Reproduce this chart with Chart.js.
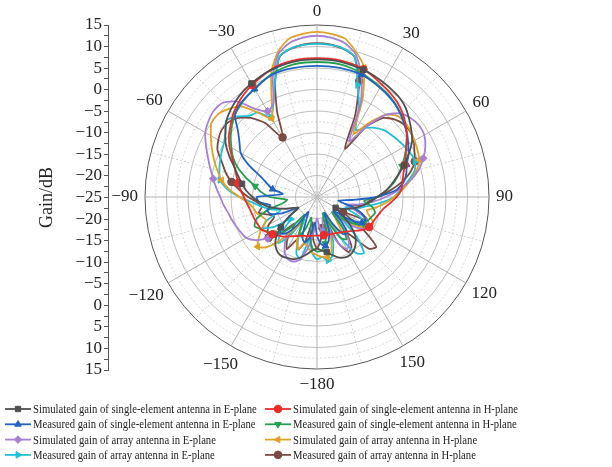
<!DOCTYPE html>
<html>
<head>
<meta charset="utf-8">
<script src="https://cdn.jsdelivr.net/npm/chart.js"></script>
<style>
  html, body { margin: 0; padding: 0; background: #fff; }
</style>
</head>
<body>
<canvas id="myChart" width="612" height="467"></canvas>
<script>
const FONT = '"Liberation Serif", "Times New Roman", serif';

// angle of each sample in degrees, clockwise from the top
const angles = [0,5,10,15,20,25,30,35,40,45,50,55,60,65,70,75,80,85,90,95,100,105,110,115,120,125,130,135,140,145,150,155,160,165,170,175,180,
  -175,-170,-165,-160,-155,-150,-145,-140,-135,-130,-125,-120,-115,-110,-105,-100,-95,-90,-85,-80,-75,-70,-65,-60,-55,-50,-45,-40,-35,-30,-25,-20,-15,-10,-5];

// angles where the curves carry a marker
const markerAngles = [-130, -80, -30, 20, 70, 120, 170];

// gain in dB, same order as angles
const simSingleE = [7.0,7.0,6.9,6.7,6.5,6.2,5.8,5.4,5.0,4.2,3.0,1.8,0.5,-1.5,-3.5,-5.5,-7.3,-9,-11,-12.5,-14,-15.5,-17,-18.5,-20,-18,-15,-12.5,-11,-10,-9.5,-9.5,-10,-11,-12,-12.5,-13,
  -12.5,-11.5,-10.5,-9.6,-9.3,-9,-9.2,-10,-11.5,-14,-17,-20,-19,-17,-15,-13,-11.5,-10,-8.5,-7.3,-6,-4.5,-2.5,-0.5,1.0,2.5,3.5,4.3,5.0,5.5,6.0,6.4,6.7,6.9,7.0];
const simSingleH = [7.3,7.3,7.2,7.0,6.6,5.9,5.2,4.6,3.9,3.0,1.8,0.5,-1.0,-2.2,-3.3,-4.2,-4.8,-5.3,-6.5,-8,-9.3,-10,-10.5,-10.8,-11,-11.8,-12.8,-13.8,-14.5,-15,-15.4,-15.6,-15.8,-15.9,-16,-16,-16,
  -16,-15.8,-15.6,-15.4,-15,-14.5,-13.8,-13,-12.3,-11.5,-10.8,-10,-9.8,-9.6,-9.4,-9.1,-8.6,-8,-7.2,-6.4,-5.6,-4.6,-3.2,-1.5,0,1.2,2.5,3.5,4.4,5.1,5.8,6.5,7.0,7.2,7.3];
const measSingleE = [5.5,5.5,5.5,5.4,5.3,4.8,4.3,3.8,3.2,2.4,1.5,0.6,-0.5,-1.5,-2.8,-3.5,-4.5,-6.5,-11,-17,-20,-17,-14,-12.5,-13,-16,-20,-17,-14,-14.5,-18,-21,-17,-14.5,-13.4,-14,-16,
  -19,-15.5,-14,-15,-19,-21,-17,-14,-13,-14,-17,-20,-16,-13.5,-13,-14,-11.5,-11,-17,-14.5,-13,-11,-7.5,-4.5,-3,-1,2,3.0,3.5,4.0,4.7,5.3,5.5,5.5,5.5];
const measSingleH = [6.4,6.4,6.3,6.0,5.6,5.0,4.5,4.0,3.3,2.5,1.5,0.5,-1.0,-2.5,-4.0,-5.5,-7,-9,-11,-14,-12,-11,-11.5,-12,-12.5,-14,-17,-20,-16,-13,-14,-18,-21,-17,-14,-12.5,-12.3,
  -13,-16,-20,-17,-15,-18,-20,-16,-13,-12,-11,-10,-9,-10,-13,-17,-18,-14,-12,-10.4,-8,-5.5,-3.5,-2,-0.5,0.8,2.0,2.8,3.5,4.1,4.8,5.5,6.0,6.3,6.4];
const simArrayE = [12.5,12.2,11.4,9.5,5.3,-1,-10,-5,0,2.5,3.5,4.0,3.8,2.8,1.3,-0.5,-3,-6,-9,-12,-15,-18,-15,-12,-11,-12,-15,-19,-15,-12,-11,-13,-17,-20,-17,-18,-20,
  -17,-13,-10,-9,-9,-10,-12,-14,-13,-10,-7.5,-6,-5.5,-5,-4.5,-4,-3.2,-2.5,-1.5,-0.5,0.7,2,3.5,5,5.8,6.3,6,4,0,-2,-1,5,9.5,11.4,12.2];
const simArrayH = [13.4,13.1,12.4,10,7,0,-8,-4,0,1.6,1.8,1.6,1.2,0.8,0.3,-1,-3,-5,-7,-9,-11,-13,-12,-10.5,-11.3,-13,-17,-20,-18,-15,-17,-20,-16,-12,-10.8,-11,-11.5,
  -12,-13,-14,-12,-14,-18,-16,-12,-8.5,-7,-8.5,-10,-12,-11.5,-10.5,-10,-9,-7,-4.5,-2.5,-1,0.5,2,3.5,5,5,4,2.5,-1,-4,0,6,10,12.4,13.1];
const measArrayE = [10.6,10.5,10.1,8.8,2.7,-2,-7,-5.4,-4,-3,-2.5,-2,-1.5,-1,-0.7,-1.5,-3.5,-5.5,-7.1,-10,-13,-15,-18,-14,-12,-14,-18,-12,-8,-9,-14,-19,-14,-11,-10,-11,-10.5,
  -12,-15,-10,-11,-15,-19,-14,-11,-13,-17,-13,-10.5,-12,-16,-14,-12,-10,-7,-4,-2.1,-1.5,-1,-0.5,0,1,2.6,1.5,-0.4,-1,-3.6,-1,3.5,8.8,10.1,10.5];
const measArrayH = [10.8,10.6,10,8.7,3.7,-4,-12,-5,-1,0.5,1.3,1.5,1,0,-0.8,-2.5,-5,-8,-11,-13,-14,-17,-14,-12,-18,-12,-7,-8,-14,-11,-10.2,-13,-19,-16,-17.7,-15,-13,
  -15,-19,-14,-12,-14,-11,-13,-17,-13,-10.3,-11,-12,-14,-13,-11,-12,-11,-9,-7,-4.8,-3,-1.5,0.5,1.5,2.1,2,1,-1,-4,-9,-3,3.5,8.7,10,10.6];

const series = [
  { label: 'Simulated gain of single-element antenna in E-plane', data: simSingleE, color: '#505050', style: 'rect', rot: 0 },
  { label: 'Simulated gain of single-element antenna in H-plane', data: simSingleH, color: '#ec2b2b', style: 'circle', rot: 0 },
  { label: 'Measured gain of single-element antenna in E-plane', data: measSingleE, color: '#2262c2', style: 'triangle', rot: 0 },
  { label: 'Measured gain of single-element antenna in H-plane', data: measSingleH, color: '#22a052', style: 'triangle', rot: 180 },
  { label: 'Simulated gain of array antenna in E-plane', data: simArrayE, color: '#a680d2', style: 'rectRot', rot: 0 },
  { label: 'Simulated gain of array antenna in H-plane', data: simArrayH, color: '#e0a224', style: 'triangle', rot: -90 },
  { label: 'Measured gain of array antenna in E-plane', data: measArrayE, color: '#22c0d6', style: 'triangle', rot: 90 },
  { label: 'Measured gain of array antenna in H-plane', data: measArrayH, color: '#7b4a42', style: 'circle', rot: 0 }
];

const minus = v => String(v).replace('-', '\u2212');

// angle labels round the outer ring
const angleLabels = {
  id: 'angleLabels',
  afterDraw(chart) {
    const r = chart.scales.r, ctx = chart.ctx;
    ctx.save();
    ctx.font = '17px ' + FONT;
    ctx.fillStyle = '#222';
    ctx.textAlign = 'center';
    ctx.textBaseline = 'middle';
    angles.forEach((a, i) => {
      if (a % 30 !== 0) return;
      const txt = minus(a === 180 ? -180 : a);
      const w = ctx.measureText(txt).width, h = 12;
      const rad = a * Math.PI / 180;
      let d = r.drawingArea + 7 + w / 2 * Math.abs(Math.sin(rad)) + h / 2 * Math.abs(Math.cos(rad));
      if (a === 180) d += 3;
      const p = r.getPointPosition(i, d);
      ctx.fillText(txt, p.x, p.y);
    });
    ctx.restore();
  }
};

// legend in two columns under the plot
const twoColLegend = {
  id: 'twoColLegend',
  afterDraw(chart) {
    const ctx = chart.ctx;
    ctx.save();
    ctx.font = '13px ' + FONT;
    ctx.textAlign = 'left';
    ctx.textBaseline = 'middle';
    chart.data.datasets.forEach((ds, i) => {
      const x = i % 2 ? 265 : 5;
      const y = 409 + Math.floor(i / 2) * 15.3;
      ctx.strokeStyle = ds.borderColor;
      ctx.lineWidth = 1.8;
      ctx.setLineDash([]);
      ctx.beginPath(); ctx.moveTo(x, y); ctx.lineTo(x + 26, y); ctx.stroke();
      ctx.fillStyle = ds.borderColor;
      ctx.lineWidth = 1;
      Chart.helpers.drawPoint(ctx, { pointStyle: ds.pointStyle, rotation: ds.rotation, radius: 3.8, borderWidth: 1 }, x + 13, y);
      ctx.fillStyle = '#222';
      const w = ctx.measureText(ds.label).width;
      ctx.fillText(ds.label, x + 28, y + 0.5, w * 0.82);
    });
    ctx.restore();
  }
};

const ctx = document.getElementById('myChart').getContext('2d');

const myChart = new Chart(ctx, {
  type: 'radar',
  data: {
    labels: angles,
    datasets: series.map(s => ({
      label: s.label,
      data: s.data,
      borderColor: s.color,
      backgroundColor: s.color,
      borderWidth: 1.8,
      fill: false,
      tension: 0.2,
      pointStyle: s.style,
      rotation: s.rot,
      pointRadius: c => markerAngles.includes(angles[c.dataIndex]) ? 3.8 : 0,
      pointBorderWidth: 1
    }))
  },
  options: {
    responsive: false,
    animation: false,
    devicePixelRatio: 1,
    layout: { padding: { top: 25, bottom: 97, right: 86, left: 0 } },
    plugins: { legend: { display: false }, tooltip: { enabled: false } },
    scales: {
      r: {
        min: -25,
        max: 15,
        ticks: { display: false, stepSize: 2.5 },
        pointLabels: { display: false },
        grid: {
          circular: true,
          lineWidth: 1,
          color: c => c.tick.value >= 15 ? '#555' : (Math.abs((c.tick.value + 25) % 5) < 1e-6 ? '#bdbdbd' : '#d6d6d6')
        },
        border: { dash: c => (c.tick.value < 15 && Math.abs((c.tick.value + 25) % 5) > 1e-6) ? [2, 2] : [] },
        angleLines: {
          color: c => c.index % 6 === 0 ? '#b0b0b0' : '#d2d2d2',
          lineWidth: c => c.index % 3 === 0 ? 1 : 0,
          borderDash: c => c.index % 6 === 0 ? [] : [2, 2]
        }
      },
      y: {
        type: 'linear',
        position: 'left',
        min: -40,
        max: 40,
        afterFit: s => { s.width = 108; },
        ticks: {
          stepSize: 2.5,
          autoSkip: false,
          padding: 2,
          color: '#222',
          font: { family: FONT, size: 17 },
          callback: v => (v % 5 === 0) ? minus(Math.abs(v) - 25) : ''
        },
        grid: { drawOnChartArea: false, drawTicks: true, tickLength: 4, tickColor: '#555' },
        border: { display: true, color: '#555' },
        title: { display: true, text: 'Gain/dB', color: '#222', font: { family: FONT, size: 18 }, padding: { top: 36, bottom: 0 } }
      }
    }
  },
  plugins: [angleLabels, twoColLegend]
});
</script>
</body>
</html>
